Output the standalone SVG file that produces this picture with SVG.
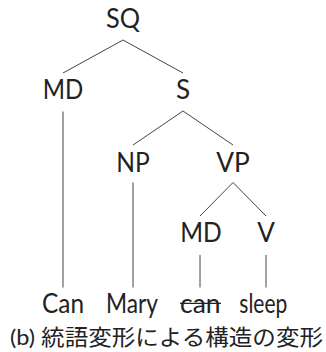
<svg xmlns="http://www.w3.org/2000/svg" width="326" height="352" viewBox="0 0 326 352">
<style>
.lbl{font-family:"Lato","Open Sans",sans-serif;font-size:26px;fill:#222;text-anchor:middle}
.cap{font-family:"Lato","Noto Sans CJK JP",sans-serif;font-size:22px;fill:#222}
.edge{stroke:#444;stroke-width:1;fill:none}
</style>
<rect width="326" height="352" fill="#fff"/>
<g id="connectors">
<line class="edge" x1="123" y1="40" x2="63" y2="73"/>
<line class="edge" x1="123" y1="40" x2="183" y2="73"/>
<line class="edge" x1="63" y1="111.5" x2="63" y2="287.5"/>
<line class="edge" x1="183" y1="111" x2="133" y2="145"/>
<line class="edge" x1="183" y1="111" x2="233" y2="145"/>
<line class="edge" x1="133" y1="182.5" x2="133" y2="287.5"/>
<line class="edge" x1="233" y1="182.5" x2="200" y2="216"/>
<line class="edge" x1="233" y1="182.5" x2="266" y2="216"/>
<line class="edge" x1="200" y1="255" x2="200" y2="287.5"/>
<line class="edge" x1="266" y1="255" x2="266" y2="287.5"/>
</g>
<g id="n-SQ"><text class="lbl" x="123" y="27.5" textLength="34" lengthAdjust="spacingAndGlyphs">SQ</text></g>
<g id="n-MD1"><text class="lbl" x="63" y="99" textLength="40.5" lengthAdjust="spacingAndGlyphs">MD</text></g>
<g id="n-S"><text class="lbl" x="183" y="99">S</text></g>
<g id="n-NP"><text class="lbl" x="133" y="172" textLength="33.5" lengthAdjust="spacingAndGlyphs">NP</text></g>
<g id="n-VP"><text class="lbl" x="233" y="172" textLength="33.5" lengthAdjust="spacingAndGlyphs">VP</text></g>
<g id="n-MD2"><text class="lbl" x="201" y="242" textLength="41.5" lengthAdjust="spacingAndGlyphs">MD</text></g>
<g id="n-V"><text class="lbl" x="266" y="242">V</text></g>
<g id="n-Can"><text class="lbl" x="63" y="313" textLength="42" lengthAdjust="spacingAndGlyphs">Can</text></g>
<g id="n-Mary"><text class="lbl" x="132" y="313" textLength="52" lengthAdjust="spacingAndGlyphs">Mary</text></g>
<g id="n-can"><text class="lbl" x="200.3" y="313" textLength="40.5" lengthAdjust="spacingAndGlyphs">can</text><line x1="180" y1="303.3" x2="221" y2="303.3" stroke="#222" stroke-width="1.2"/></g>
<g id="n-sleep"><text class="lbl" x="263.3" y="313" textLength="48" lengthAdjust="spacingAndGlyphs">sleep</text></g>
<g id="caption"><text class="cap" x="10" y="345" textLength="313" lengthAdjust="spacingAndGlyphs">(b) 統語変形による構造の変形</text></g>
</svg>
